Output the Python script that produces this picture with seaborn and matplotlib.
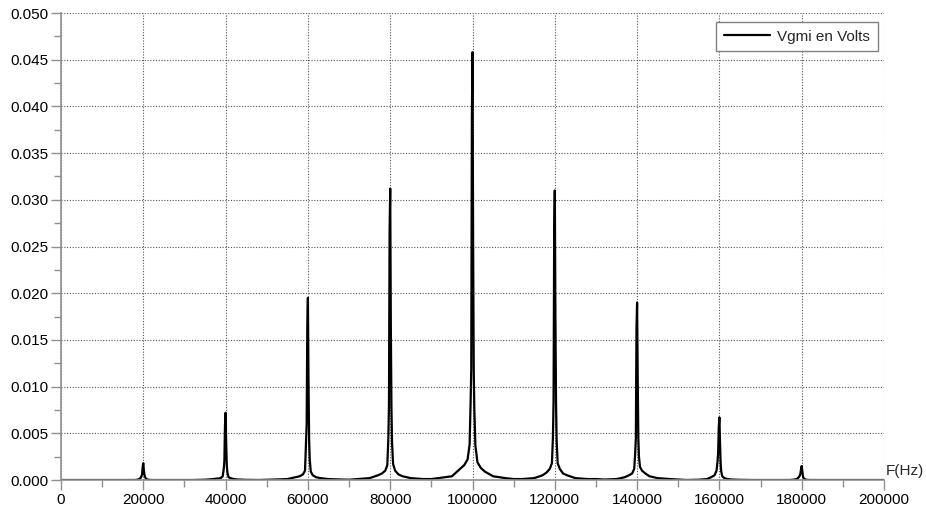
import numpy as np
import pandas as pd
import matplotlib
matplotlib.use("Agg")
import matplotlib.pyplot as plt
import seaborn as sns

# Spectral lines of Vgmi (centre frequencies in Hz)
peak_freqs = [20000, 40000, 60000, 80000, 100000, 120000, 140000, 160000, 180000]

# Frequency offsets (Hz) around each line where the spectrum is sampled
offsets = [-8000, -5000, -3000, -2000, -1200, -700, -450, -300, -150, 0,
           150, 300, 450, 700, 1200, 2000, 3000, 5000, 8000]

# Amplitude (V) at each offset, one list per line
v_20k = [0, 0, 0, 0, 0.00005, 0.0002, 0.0004, 0.0006, 0.0014, 0.0018,
         0.0010, 0.0005, 0.0003, 0.0001, 0.00003, 0, 0, 0, 0]
v_40k = [0, 0.00003, 0.0001, 0.00015, 0.0002, 0.0004, 0.0012, 0.0020, 0.0058, 0.0072,
         0.0038, 0.0015, 0.0008, 0.0003, 0.0002, 0.0001, 0.00005, 0.00002, 0]
v_60k = [0.00005, 0.0001, 0.0003, 0.0004, 0.0006, 0.0010, 0.0043, 0.0060, 0.0163, 0.0195,
         0.0104, 0.0043, 0.0022, 0.0009, 0.0005, 0.0003, 0.0002, 0.0001, 0.00005]
v_80k = [0.0001, 0.0002, 0.0005, 0.0007, 0.0010, 0.0016, 0.0045, 0.0080, 0.0265, 0.0312,
         0.0168, 0.0078, 0.0040, 0.0017, 0.0010, 0.0006, 0.0004, 0.0002, 0.0001]
v_100k = [0.00022, 0.0004, 0.0012, 0.0016, 0.0022, 0.0038, 0.0085, 0.0120, 0.0390, 0.0458,
          0.0255, 0.0118, 0.0075, 0.0037, 0.0019, 0.0013, 0.0009, 0.0004, 0.0002]
v_120k = [0.0001, 0.0002, 0.0005, 0.0008, 0.0012, 0.0018, 0.0046, 0.0085, 0.0265, 0.0310,
          0.0175, 0.0082, 0.0042, 0.0018, 0.0012, 0.0007, 0.0005, 0.0002, 0.0001]
v_140k = [0.00005, 0.0001, 0.0003, 0.0005, 0.0007, 0.0012, 0.0030, 0.0045, 0.0163, 0.0190,
          0.0108, 0.0045, 0.0025, 0.0014, 0.0010, 0.0007, 0.0004, 0.0002, 0.0001]
v_160k = [0, 0.00003, 0.0001, 0.0003, 0.0005, 0.0010, 0.0020, 0.0030, 0.0057, 0.0067,
          0.0040, 0.0018, 0.0009, 0.0004, 0.0002, 0.0001, 0.00005, 0.00002, 0]
v_180k = [0, 0, 0, 0.00003, 0.0001, 0.0003, 0.0005, 0.0007, 0.0012, 0.0015,
          0.0009, 0.0004, 0.0002, 0.0001, 0.00002, 0, 0, 0, 0]

# Floor of the spectrum between the lines
gap_freqs = [0, 10000, 30000, 50000, 70000, 90000, 110000, 130000, 150000, 170000, 190000, 200000]
gap_values = [0, 0, 0, 0.00002, 0.00003, 0.0001, 0.0001, 0.0001, 0.00005, 0, 0, 0]

line_values = [v_20k, v_40k, v_60k, v_80k, v_100k, v_120k, v_140k, v_160k, v_180k]

freqs, volts = list(gap_freqs), list(gap_values)
for fc, vals in zip(peak_freqs, line_values):
    freqs += [fc + d for d in offsets]
    volts += vals
spectrum = pd.DataFrame({"F": freqs, "V": volts}).sort_values("F")
spectrum["serie"] = "Vgmi en Volts"

sns.set_style("ticks")
plt.rcParams["font.family"] = ["Liberation Sans", "DejaVu Sans"]

fig = plt.figure(figsize=(9.26, 5.11), dpi=100)
ax = fig.add_axes([61 / 926, 1 - 480 / 511, 823 / 926, 467 / 511])

sns.lineplot(data=spectrum, x="F", y="V", hue="serie", palette=["black"],
             linewidth=1.6, ax=ax, legend=True, estimator=None, sort=False)

ax.set_xlim(0, 200000)
ax.set_ylim(0, 0.05)
ax.set_xticks(np.arange(0, 200001, 20000))
ax.set_xticks(np.arange(10000, 200000, 20000), minor=True)
ax.set_yticks(np.arange(0, 0.0501, 0.005))
ax.set_yticks(np.arange(0.0025, 0.05, 0.005), minor=True)
ax.set_xticklabels([f"{int(v)}" for v in np.arange(0, 200001, 20000)])
ax.set_yticklabels([f"{v:.3f}" for v in np.arange(0, 0.0501, 0.005)])
ax.set_xlabel("")
ax.set_ylabel("")

ax.grid(True, which="major", linestyle=(0, (1, 1.5)), linewidth=0.8, color="#555555")
ax.set_axisbelow(True)
for side in ("top", "right"):
    ax.spines[side].set_visible(False)
for side in ("left", "bottom"):
    ax.spines[side].set_color("#909090")
    ax.spines[side].set_linewidth(1.2)

ax.tick_params(which="major", length=7, width=1, color="#909090", labelsize=11,
               labelcolor="black", pad=2)
ax.tick_params(which="minor", length=5, width=1, color="#909090")

ax.annotate("F(Hz)", xy=(1, 0), xycoords="axes fraction", xytext=(2, 9),
            textcoords="offset pixels", ha="left", va="center", fontsize=11)

leg = ax.legend(loc="upper right", bbox_to_anchor=(1 - 6 / 823, 1 - 9 / 467),
                borderaxespad=0, fancybox=False, framealpha=1, edgecolor="#808080",
                fontsize=11, handlelength=3.0, handletextpad=0.5, borderpad=0.5)
leg.get_frame().set_linewidth(1.0)
for h in leg.get_lines():
    h.set_linewidth(1.6)

fig.savefig("out.png", dpi=100)
